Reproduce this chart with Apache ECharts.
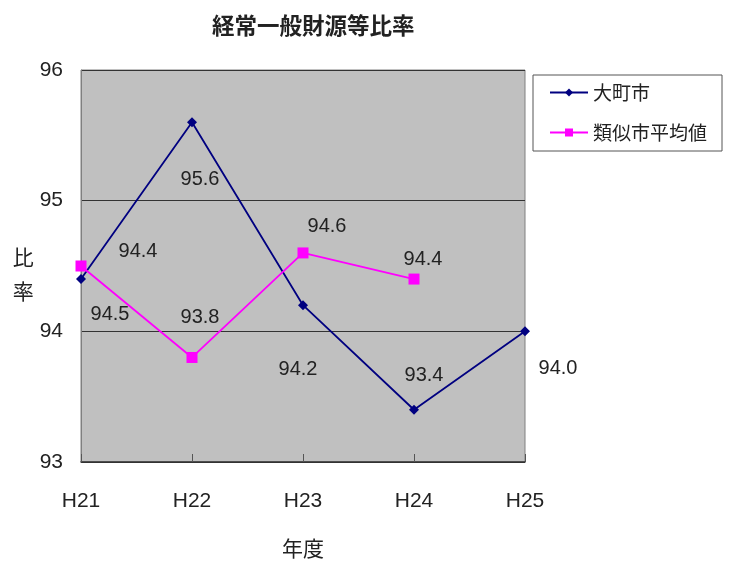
<!DOCTYPE html>
<html><head><meta charset="utf-8">
<script src="https://cdn.jsdelivr.net/npm/echarts@6/dist/echarts.min.js"></script>
<style>html,body{margin:0;padding:0;background:#fff}#c{width:729px;height:564px}</style>
</head><body><div id="c"></div>
<script>
const categories = ['H21', 'H22', 'H23', 'H24', 'H25'];
const omachi = [94.4, 95.6, 94.2, 93.4, 94.0];
const ruijiAvg = [94.5, 93.8, 94.6, 94.4];
const seriesNames = ['大町市', '類似市平均値'];
const yTicks = [93, 94, 95, 96];

// label placements (relative to each point)
const omachiLabelOffsets = [[57, -28], [8, 57], [-5, 64], [10, -34], [33, 37]];
const ruijiLabelOffsets = [[29, 48], [8, -40], [24, -26], [9, -20]];

const numFont = '"Liberation Sans Narrow", "Liberation Sans", Arial, sans-serif';
const cjkFont = '"Noto Sans CJK JP", sans-serif';

function withLabels(vals, offs) {
  return vals.map((v, i) => ({ value: v, label: { offset: offs[i] } }));
}

const chart = echarts.init(document.getElementById('c'), null, { renderer: 'canvas' });
chart.setOption({
  animation: false,
  backgroundColor: '#ffffff',
  title: {
    text: '経常一般財源等比率',
    left: 207, top: 9,
    textStyle: { fontFamily: cjkFont, fontSize: 22.5, fontWeight: 'bold', color: '#222' }
  },
  legend: {
    orient: 'vertical',
    left: 533, top: 75,
    data: seriesNames,
    backgroundColor: '#fff',
    borderColor: '#555', borderWidth: 1,
    padding: [8, 15, 9, 16],
    itemWidth: 38, itemHeight: 10, itemGap: 21,
    textStyle: { fontFamily: cjkFont, fontSize: 19, color: '#222' }
  },
  grid: { left: 81, right: 204, top: 70, bottom: 101, show: true,
    backgroundColor: '#C0C0C0', borderColor: '#808080', borderWidth: 1 },
  xAxis: {
    type: 'category', data: categories, boundaryGap: false,
    name: '年度', nameLocation: 'middle', nameGap: 76,
    nameTextStyle: { fontFamily: cjkFont, fontSize: 21, color: '#222' },
    axisLine: { lineStyle: { color: '#333', width: 1.5 } },
    axisTick: { inside: true, length: 8, lineStyle: { color: '#555' } },
    axisLabel: { margin: 29, fontFamily: numFont, fontSize: 21, color: '#222' }
  },
  yAxis: {
    type: 'value', min: yTicks[0], max: yTicks[yTicks.length - 1], interval: 1,
    name: '{s|}\n比\n率', nameLocation: 'middle', nameRotate: 0, nameGap: 37,
    nameTextStyle: { fontFamily: cjkFont, fontSize: 21, color: '#222', lineHeight: 34,
      rich: { s: { lineHeight: 17, fontSize: 10 } } },
    axisLine: { show: true, lineStyle: { color: '#808080' } },
    axisTick: { show: false },
    axisLabel: { margin: 18, fontFamily: numFont, fontSize: 21, color: '#222' },
    splitLine: { lineStyle: { color: '#333', width: 1.2 } }
  },
  series: [
    {
      name: seriesNames[0], type: 'line',
      data: withLabels(omachi, omachiLabelOffsets),
      symbol: 'diamond', symbolSize: 10,
      lineStyle: { color: '#000080', width: 1.8 },
      itemStyle: { color: '#000080' },
      label: { show: true, position: 'inside', fontFamily: numFont, fontSize: 20, color: '#222',
        formatter: p => p.value.toFixed(1) }
    },
    {
      name: seriesNames[1], type: 'line',
      data: withLabels(ruijiAvg, ruijiLabelOffsets),
      symbol: 'rect', symbolSize: 11,
      lineStyle: { color: '#FF00FF', width: 1.8 },
      itemStyle: { color: '#FF00FF' },
      label: { show: true, position: 'inside', fontFamily: numFont, fontSize: 20, color: '#222',
        formatter: p => p.value.toFixed(1) }
    }
  ]
});
</script></body></html>
